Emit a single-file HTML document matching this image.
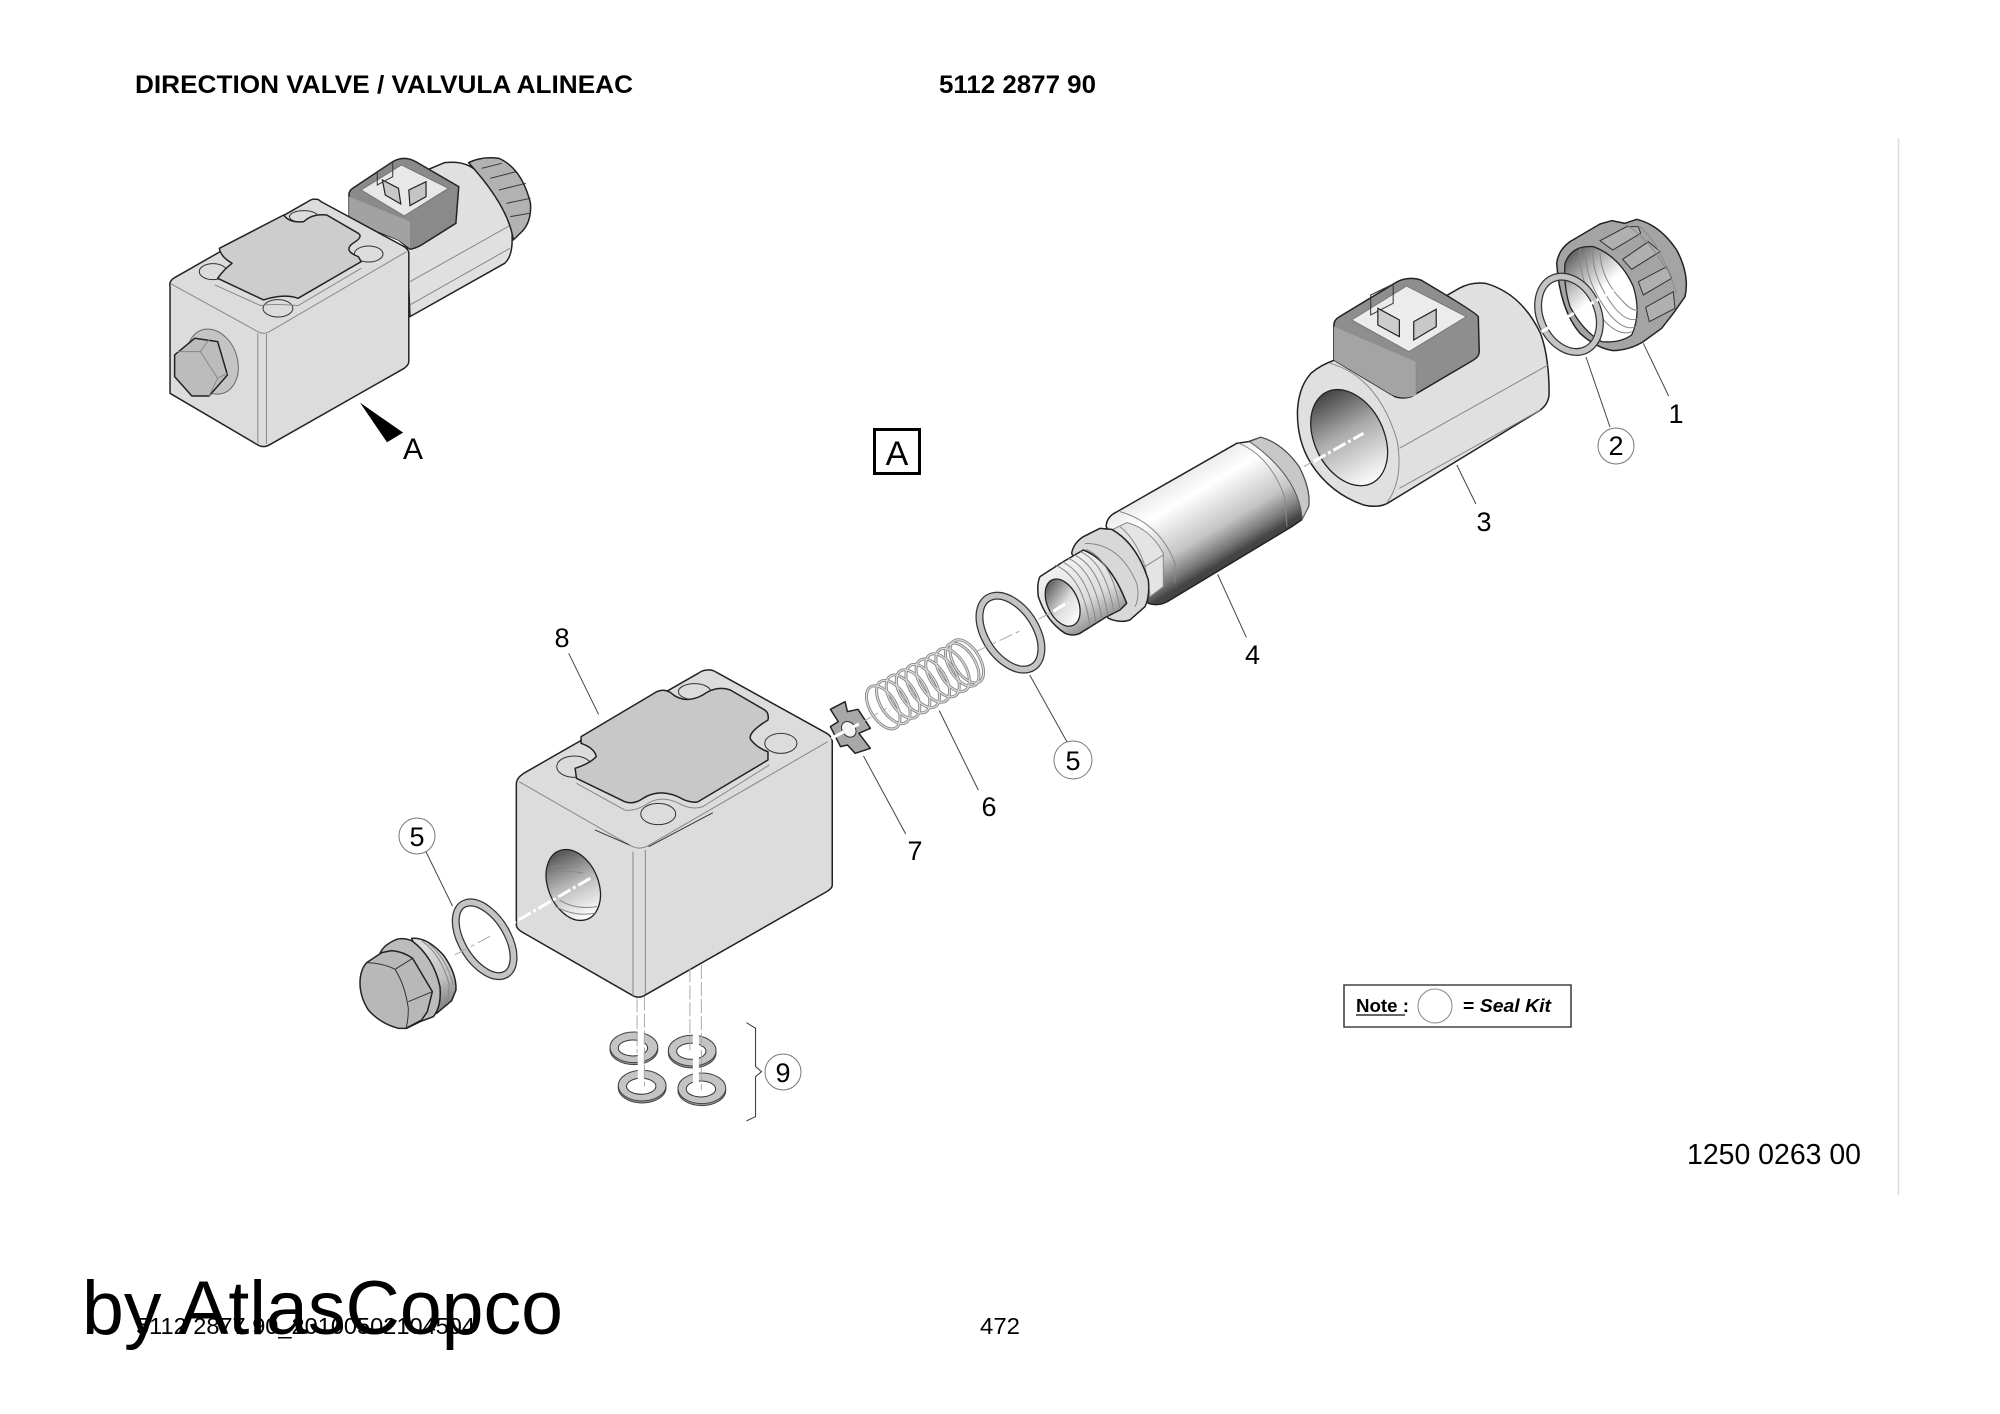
<!DOCTYPE html>
<html>
<head>
<meta charset="utf-8">
<title>Direction Valve</title>
<style>
html,body{margin:0;padding:0;background:#fff}
body{width:2000px;height:1414px;overflow:hidden}
svg{position:absolute;left:0;top:0;display:block}
svg *{vector-effect:non-scaling-stroke}
text{font-family:"Liberation Sans",Arial,sans-serif;fill:#000}
.o{stroke:#222;stroke-width:1.5;stroke-linejoin:round}
.g{fill:none;stroke:#888;stroke-width:1}
.k{fill:none;stroke:#333;stroke-width:1}
.l{fill:none;stroke:#444;stroke-width:1}
.wd{fill:none;stroke:#fff;stroke-width:3;stroke-dasharray:14 3 3 3}
.gd{fill:none;stroke:#aaa;stroke-width:1;stroke-dasharray:14 4 4 4}
.rb{fill:none;stroke:#333;stroke-width:8}
.rf{fill:none;stroke:#c4c4c4;stroke-width:5.5}
.n{font-size:27px;text-anchor:middle}
.c{fill:#fff;stroke:#777;stroke-width:1}
</style>
</head>
<body>
<svg width="2000" height="1414" viewBox="0 0 2000 1414" xmlns="http://www.w3.org/2000/svg">
<defs>
<linearGradient id="bore" gradientUnits="userSpaceOnUse" x1="670" y1="640" x2="790" y2="900"><stop offset="0" stop-color="#3d3d3d"/><stop offset=".45" stop-color="#aaa"/><stop offset="1" stop-color="#fff"/></linearGradient>
<linearGradient id="tube" gradientUnits="userSpaceOnUse" x1="350" y1="880" x2="530" y2="1090"><stop offset="0" stop-color="#e4e4e4"/><stop offset=".3" stop-color="#fff"/><stop offset=".7" stop-color="#c4c4c4"/><stop offset=".9" stop-color="#777"/><stop offset="1" stop-color="#444"/></linearGradient>
<linearGradient id="thr" gradientUnits="userSpaceOnUse" x1="150" y1="170" x2="260" y2="370"><stop offset="0" stop-color="#f2f2f2"/><stop offset=".6" stop-color="#dcdcdc"/><stop offset="1" stop-color="#8a8a8a"/></linearGradient>
<linearGradient id="hole" gradientUnits="userSpaceOnUse" x1="90" y1="245" x2="165" y2="370"><stop offset="0" stop-color="#555"/><stop offset=".55" stop-color="#ddd"/><stop offset="1" stop-color="#fff"/></linearGradient>
<linearGradient id="hb" gradientUnits="userSpaceOnUse" x1="470" y1="700" x2="540" y2="890"><stop offset="0" stop-color="#555"/><stop offset=".5" stop-color="#bbb"/><stop offset="1" stop-color="#fff"/></linearGradient>
<linearGradient id="nutin" gradientUnits="userSpaceOnUse" x1="110" y1="160" x2="240" y2="300"><stop offset="0" stop-color="#555"/><stop offset=".45" stop-color="#bbb"/><stop offset=".8" stop-color="#fff"/></linearGradient>
<linearGradient id="plth" gradientUnits="userSpaceOnUse" x1="260" y1="80" x2="340" y2="240"><stop offset="0" stop-color="#ddd"/><stop offset=".6" stop-color="#c0c0c0"/><stop offset="1" stop-color="#888"/></linearGradient>
</defs>

<!-- Header -->
<text x="135" y="93" font-size="25" font-weight="bold" textLength="498" lengthAdjust="spacingAndGlyphs">DIRECTION VALVE / VALVULA ALINEAC</text>
<text x="939" y="93" font-size="25" font-weight="bold" textLength="157" lengthAdjust="spacingAndGlyphs">5112 2877 90</text>

<!-- Right rule -->
<line x1="1898.5" y1="138" x2="1898.5" y2="1195" stroke="#ddd" stroke-width="1.5"/>

<!-- Top-left assembled view -->
<g transform="translate(100,40) scale(.574,.3333)">
  <path class="o" fill="#e0e0e0" d="M535,620 L540,830 L705,670 Q718,650 718,600 L718,520 L660,400 Q640,360 600,368 L570,390 Z"/>
  <line class="g" x1="540" y1="725" x2="716" y2="555"/>
  <line class="g" x1="540" y1="795" x2="714" y2="625"/>
  <path class="o" fill="#b2b2b2" d="M642,368 Q665,348 695,355 Q735,385 750,490 Q752,545 735,575 L720,600 Q712,500 642,368 Z"/>
  <path class="k" stroke="#666" d="M665,385 L700,370 M680,415 L725,395 M695,450 L742,430 M708,490 L750,475 M715,530 L748,520"/>
  <path class="o" fill="#8a8a8a" d="M530,355 Q520,355 510,365 L440,445 Q432,455 434,470 L434,540 L520,600 L540,628 Q550,625 560,615 L620,550 L625,440 L550,365 Q540,355 530,355 Z"/>
  <path fill="#a2a2a2" d="M434,470 L434,540 L520,600 L540,625 L540,545 Z"/>
  <path fill="#e8e8e8" stroke="#777" d="M525,375 L455,450 L530,528 L607,445 Z"/>
  <path class="k" fill="#d8d8d8" d="M483,435 L483,395 L510,365 L510,410 Z"/>
  <path fill="#c8c8c8" stroke="#222" stroke-width="1.2" d="M492,420 L520,445 L524,492 L497,465 Z"/>
  <path fill="#c4c4c4" stroke="#222" stroke-width="1.2" d="M538,450 L568,425 L568,470 L540,497 Z"/>
  <path class="o" fill="#dcdcdc" d="M375,478 Q370,475 360,487 L128,715 Q120,725 122,740 L122,1060 L275,1215 Q285,1225 295,1215 L530,985 Q538,975 538,965 L538,640 Q538,630 530,620 L385,485 Q380,476 375,478 Z"/>
  <path class="g" d="M124,732 L275,875 Q285,885 295,875 L534,635"/>
  <line class="g" x1="275" y1="880" x2="275" y2="1210"/>
  <line class="g" x1="290" y1="882" x2="290" y2="1212"/>
  <ellipse class="k" fill="#d0d0d0" cx="355" cy="530" rx="25" ry="18"/>
  <ellipse class="k" fill="#d0d0d0" cx="468" cy="642" rx="25" ry="24"/>
  <ellipse class="k" fill="#d0d0d0" cx="197" cy="695" rx="24" ry="24"/>
  <ellipse class="k" fill="#d0d0d0" cx="310" cy="805" rx="26" ry="26"/>
  <path class="g" d="M200,735 L280,797 Q300,790 345,797 L455,685"/>
  <path class="o" fill="#cdcdcd" d="M320,525 Q330,550 355,545 Q370,520 395,525 L450,580 Q458,590 445,605 Q420,630 450,650 L455,665 L345,775 Q320,760 285,780 L205,715 Q215,690 230,670 Q210,650 208,625 Z"/>
  <ellipse cx="196" cy="965" rx="44" ry="98" transform="rotate(-6 196 965)" fill="#c4c4c4" stroke="#666"/>
  <path class="o" fill="#bcbcbc" d="M130,945 L165,895 L205,905 L222,1005 L190,1068 L160,1068 L130,1010 Z"/>
  <path class="g" stroke="#555" d="M135,935 L175,935 L205,1015 L190,1068 M175,935 L190,898 M205,1015 L222,1000"/>
  <polygon points="453,1088 528,1178 500,1207" fill="#000"/>
</g>
<text x="413" y="459" font-size="30" text-anchor="middle">A</text>
<rect x="874.5" y="429.5" width="45" height="44" fill="#fff" stroke="#000" stroke-width="3"/>
<text x="897" y="465" font-size="34" text-anchor="middle">A</text>

<!-- Nut 1 and ring 2 (3x crop coordinates) -->
<g transform="translate(1530,200) scale(.3333)">
  <path class="o" fill="#a4a4a4" d="M80,190 Q85,150 120,125 L210,72 L245,62 L285,70 L320,58 Q390,75 440,150 Q480,225 465,290 L430,340 L395,385 L340,425 Q300,450 250,452 Q200,445 150,400 Q90,330 80,190 Z"/>
  <path fill="#b0b0b0" stroke="#333" d="M210,122 L290,80 L325,80 L332,100 L248,150 Z"/>
  <path fill="#b0b0b0" stroke="#333" d="M278,178 L355,125 L390,155 L305,208 Z"/>
  <path fill="#b0b0b0" stroke="#333" d="M325,245 L410,200 L425,235 L340,285 Z"/>
  <path fill="#b0b0b0" stroke="#333" d="M347,322 L430,275 L435,325 L358,365 Z"/>
  <path class="g" d="M330,80 Q390,130 440,280 M290,75 Q350,110 410,210"/>
  <path fill="#f6f6f6" stroke="#222" stroke-width="1.3" d="M105,190 Q125,135 190,140 Q270,170 310,260 Q335,340 305,405 Q270,430 215,425 Q160,395 120,320 Q100,260 105,190 Z" style="fill:url(#nutin)"/>
  <path class="g" d="M150,145 Q140,240 225,365 Q270,410 305,395 M168,145 Q160,240 240,345 Q285,395 318,380 M188,148 Q185,235 255,325 Q295,370 325,355 M210,160 Q215,240 275,300 Q305,335 325,330"/>
  <ellipse class="rb" cx="117" cy="343" rx="86" ry="118" transform="rotate(-25 117 343)"/>
  <ellipse class="rf" cx="117" cy="343" rx="86" ry="118" transform="rotate(-25 117 343)"/>
  <line class="wd" x1="35" y1="395" x2="268" y2="262"/>
</g>

<!-- Coil and tube -->
<g transform="translate(1000,180) scale(.4783,.3333)">
  <path class="o" fill="#e0e0e0" d="M960,325 Q985,305 1015,310 Q1090,340 1130,460 Q1148,530 1148,640 Q1148,670 1130,690 L810,970 Q790,985 760,975 Q690,940 650,850 Q620,780 622,690 Q625,620 650,580 Q670,555 700,540 Z"/>
  <path class="g" d="M690,550 Q790,590 830,780 Q845,900 808,970"/>
  <line class="g" x1="835" y1="805" x2="1146" y2="555"/>
  <line class="g" x1="835" y1="925" x2="1130" y2="690"/>
  <ellipse cx="730" cy="773" rx="75" ry="147" transform="rotate(-13 730 773)" fill="url(#bore)" stroke="#222" stroke-width="1.3"/>
  <!-- Connector -->
  <path class="o" fill="#8e8e8e" d="M860,295 Q840,295 825,310 L710,410 Q698,420 698,435 L698,540 L820,645 Q835,660 860,650 L990,540 Q1002,530 1002,515 L1000,410 Q998,400 880,300 Q870,295 860,295 Z"/>
  <path fill="#a4a4a4" d="M698,440 L698,540 L820,645 Q845,660 870,645 L870,545 L820,515 Z"/>
  <line class="g" x1="870" y1="545" x2="870" y2="642"/>
  <path fill="#ececec" stroke="#777" d="M850,318 L975,410 L855,515 L735,420 Z"/>
  <path class="k" fill="#ddd" d="M775,405 L775,345 L822,312 L822,370 Z"/>
  <path fill="#cdcdcd" stroke="#222" stroke-width="1.2" d="M790,385 L835,420 L835,470 L790,435 Z"/>
  <path fill="#c8c8c8" stroke="#222" stroke-width="1.2" d="M865,425 L912,388 L912,440 L865,480 Z"/>
  <!-- Tube -->
  <path class="o" fill="url(#tube)" d="M495,790 L520,785 L545,772 Q590,790 625,860 Q650,930 645,980 L630,1020 L610,1040 L350,1265 Q330,1280 310,1270 L250,1100 L222,1040 Q222,1010 245,995 Z"/>
  <path fill="#c8c8c8" stroke="#555" d="M522,785 L545,772 Q590,790 625,860 Q650,930 645,980 L632,1018 Q625,890 522,785 Z"/>
  <path class="g" d="M500,790 Q565,830 595,950 L600,1040"/>
  <!-- Centre lines -->
  <line class="gd" x1="635" y1="860" x2="660" y2="840"/>
  <line class="wd" x1="655" y1="845" x2="760" y2="760"/>
  <!-- Leaders -->
  <line class="l" x1="1345" y1="490" x2="1398" y2="648"/>
  <line class="l" x1="955" y1="855" x2="995" y2="972"/>
  <line class="l" x1="455" y1="1183" x2="515" y2="1372"/>
</g>

<!-- Thread end of tube (3x crop coordinates) -->
<g transform="translate(1020,500) scale(.3333)">
  <path fill="#e4e4e4" stroke="#888" d="M275,90 L320,68 Q390,85 430,160 L430,260 L390,290 Z"/>
  <path class="g" d="M430,165 L375,200 L390,285 M375,200 Q350,120 300,80"/>
  <path class="g" d="M300,35 Q420,70 465,190 L465,250"/>
  <path class="o" fill="#d8d8d8" d="M155,160 Q160,130 190,110 L240,85 L275,88 Q350,130 385,240 Q390,290 375,320 L330,360 Q300,370 265,355 Z"/>
  <path class="g" d="M195,130 Q300,130 350,250 Q360,290 345,320"/>
  <path class="o" fill="url(#thr)" d="M60,230 L130,185 L190,150 Q270,180 320,310 L300,330 L260,350 L180,400 Q160,410 135,400 Q80,365 55,290 Q50,250 60,230 Z"/>
  <path class="g" d="M105,195 Q190,230 210,380 M125,185 Q205,220 228,368 M145,175 Q222,210 246,358 M163,165 Q240,200 264,348 M181,155 Q258,190 282,338 M199,148 Q276,182 300,328"/>
  <ellipse cx="128" cy="308" rx="46" ry="75" transform="rotate(-25 128 308)" fill="url(#hole)" stroke="#222" stroke-width="1.3"/>
  <line class="wd" x1="100" y1="334" x2="145" y2="306"/>
  <line class="gd" x1="55" y1="358" x2="100" y2="334"/>
</g>

<!-- Plug (3x crop coordinates) -->
<g transform="translate(340,920) scale(.3333)">
  <path class="o" fill="url(#plth)" d="M215,55 Q260,50 310,105 Q350,160 348,210 L335,242 L290,280 L250,150 Z"/>
  <path class="g" d="M245,62 Q305,105 328,195 L322,250 M265,70 Q320,115 340,195"/>
  <path class="o" fill="#bcbcbc" d="M120,100 Q130,75 170,58 Q190,52 215,62 Q280,110 300,200 Q305,260 280,290 L240,305 L200,325 Z"/>
  <path class="o" fill="#b8b8b8" d="M60,190 Q60,150 80,128 L125,98 L155,92 Q190,95 218,115 L277,215 L262,275 L245,300 L198,325 L175,325 Q120,310 85,270 Q60,230 60,190 Z"/>
  <path class="k" stroke="#555" d="M80,128 Q130,130 165,148 Q195,195 205,265 Q205,300 198,325 M165,148 L218,115 M205,245 L277,215"/>
</g>

<!-- Block group -->
<g transform="translate(340,620) scale(.4592,.3333)">
  <path class="o" fill="#dcdcdc" d="M800,150 Q810,148 820,157 L1060,340 Q1072,350 1072,365 L1072,795 Q1072,805 1060,815 L665,1125 Q650,1138 635,1125 L395,935 Q384,925 384,915 L384,490 Q384,475 400,460 L780,160 Q790,150 800,150 Z" stroke-width="2"/>
  <path class="g" d="M390,485 L630,675 Q650,692 670,678 L1062,365"/>
  <line class="g" x1="638" y1="695" x2="638" y2="1127"/>
  <line class="g" x1="665" y1="690" x2="665" y2="1122"/>
  <line class="k" x1="555" y1="630" x2="630" y2="675" stroke="#777"/>
  <line class="k" x1="672" y1="680" x2="812" y2="578" stroke="#777"/>
  <ellipse class="k" fill="#d0d0d0" cx="772" cy="215" rx="35" ry="24"/>
  <ellipse class="k" fill="#d0d0d0" cx="960" cy="370" rx="35" ry="30"/>
  <ellipse class="k" fill="#d0d0d0" cx="510" cy="440" rx="38" ry="32"/>
  <ellipse class="k" fill="#d0d0d0" cx="693" cy="582" rx="38" ry="32"/>
  <path class="g" d="M515,490 L620,570 Q640,575 665,555 Q700,520 745,555 Q770,570 790,560 L935,435"/>
  <path class="o" fill="#c8c8c8" d="M525,350 L690,215 Q705,205 720,218 Q750,255 790,225 Q820,195 850,210 L925,270 Q935,280 932,300 Q885,340 895,360 Q910,385 932,395 L932,420 L780,545 Q770,550 750,540 Q700,500 660,535 Q640,555 620,545 L515,475 L512,445 Q545,430 558,410 Q555,385 525,370 Z"/>
  <ellipse cx="508" cy="795" rx="56" ry="108" transform="rotate(-12 508 795)" fill="url(#hb)" stroke="#222" stroke-width="1.3"/>
  <path class="g" d="M458,745 Q480,730 520,740 M456,765 Q480,745 530,760 M470,860 Q510,890 555,880 M478,840 Q510,870 560,860"/>
  <line class="wd" x1="545" y1="775" x2="370" y2="915"/>

  <!-- Left ring -->
  <ellipse class="rb" cx="315" cy="958" rx="52" ry="116" transform="rotate(-20 315 958)"/>
  <ellipse class="rf" cx="315" cy="958" rx="52" ry="116" transform="rotate(-20 315 958)"/>
  <line class="gd" x1="250" y1="1005" x2="332" y2="945"/>

  <!-- Star washer -->
  <polygon class="o" fill="#a8a8a8" points="1068,268 1100,245 1105,275 1128,268 1155,325 1130,340 1155,385 1122,400 1105,375 1090,380 1068,320 1085,305"/>
  <ellipse cx="1108" cy="328" rx="15" ry="24" transform="rotate(-15 1108 328)" fill="#f4f4f4" stroke="#333"/>
  <line class="wd" x1="1070" y1="355" x2="1130" y2="312"/>
  <line class="gd" x1="1130" y1="312" x2="1190" y2="265"/>

  <!-- Spring -->
  <g fill="none" stroke="#888" stroke-width="3">
    <ellipse cx="1183" cy="262" rx="30" ry="68" transform="rotate(-20 1183 262)"/>
    <ellipse cx="1205" cy="246" rx="30" ry="68" transform="rotate(-20 1205 246)"/>
    <ellipse cx="1226" cy="230" rx="30" ry="68" transform="rotate(-20 1226 230)"/>
    <ellipse cx="1248" cy="214" rx="30" ry="68" transform="rotate(-20 1248 214)"/>
    <ellipse cx="1269" cy="198" rx="30" ry="68" transform="rotate(-20 1269 198)"/>
    <ellipse cx="1291" cy="182" rx="30" ry="68" transform="rotate(-20 1291 182)"/>
    <ellipse cx="1312" cy="166" rx="30" ry="68" transform="rotate(-20 1312 166)"/>
    <ellipse cx="1334" cy="150" rx="30" ry="68" transform="rotate(-20 1334 150)"/>
    <ellipse cx="1355" cy="134" rx="30" ry="68" transform="rotate(-20 1355 134)"/>
    <ellipse cx="1365" cy="124" rx="30" ry="68" transform="rotate(-20 1365 124)"/>
  </g>
  <g fill="none" stroke="#ddd" stroke-width="1.2">
    <ellipse cx="1183" cy="262" rx="30" ry="68" transform="rotate(-20 1183 262)"/>
    <ellipse cx="1205" cy="246" rx="30" ry="68" transform="rotate(-20 1205 246)"/>
    <ellipse cx="1226" cy="230" rx="30" ry="68" transform="rotate(-20 1226 230)"/>
    <ellipse cx="1248" cy="214" rx="30" ry="68" transform="rotate(-20 1248 214)"/>
    <ellipse cx="1269" cy="198" rx="30" ry="68" transform="rotate(-20 1269 198)"/>
    <ellipse cx="1291" cy="182" rx="30" ry="68" transform="rotate(-20 1291 182)"/>
    <ellipse cx="1312" cy="166" rx="30" ry="68" transform="rotate(-20 1312 166)"/>
    <ellipse cx="1334" cy="150" rx="30" ry="68" transform="rotate(-20 1334 150)"/>
    <ellipse cx="1355" cy="134" rx="30" ry="68" transform="rotate(-20 1355 134)"/>
    <ellipse cx="1365" cy="124" rx="30" ry="68" transform="rotate(-20 1365 124)"/>
  </g>
  <!-- Top ring -->
  <ellipse class="rb" cx="1460" cy="38" rx="58" ry="116" transform="rotate(-20 1460 38)"/>
  <ellipse class="rf" cx="1460" cy="38" rx="58" ry="116" transform="rotate(-20 1460 38)"/>
  <line class="gd" x1="1385" y1="95" x2="1485" y2="30"/>

  <!-- Washers -->
  <ellipse cx="640" cy="1288" rx="52" ry="46" fill="#999" stroke="#444"/>
  <ellipse cx="640" cy="1282" rx="52" ry="46" fill="#c4c4c4" stroke="#444"/>
  <ellipse cx="638" cy="1284" rx="32" ry="24" fill="#fff" stroke="#333"/>
  <ellipse cx="767" cy="1298" rx="52" ry="46" fill="#999" stroke="#444"/>
  <ellipse cx="767" cy="1292" rx="52" ry="46" fill="#c4c4c4" stroke="#444"/>
  <ellipse cx="765" cy="1294" rx="32" ry="24" fill="#fff" stroke="#333"/>
  <ellipse cx="658" cy="1403" rx="52" ry="46" fill="#999" stroke="#444"/>
  <ellipse cx="658" cy="1397" rx="52" ry="46" fill="#c4c4c4" stroke="#444"/>
  <ellipse cx="656" cy="1399" rx="32" ry="24" fill="#fff" stroke="#333"/>
  <ellipse cx="788" cy="1411" rx="52" ry="46" fill="#999" stroke="#444"/>
  <ellipse cx="788" cy="1405" rx="52" ry="46" fill="#c4c4c4" stroke="#444"/>
  <ellipse cx="786" cy="1407" rx="32" ry="24" fill="#fff" stroke="#333"/>
  <!-- Vertical dashes -->
  <g fill="none" stroke="#fff" stroke-width="6">
    <line x1="655" y1="1230" x2="655" y2="1400"/>
    <line x1="775" y1="1235" x2="775" y2="1410"/>
  </g>
  <g fill="none" stroke="#aaa" stroke-width="1" stroke-dasharray="14 3">
    <line x1="647" y1="1135" x2="647" y2="1300"/>
    <line x1="663" y1="1130" x2="663" y2="1400"/>
    <line x1="762" y1="1045" x2="762" y2="1300"/>
    <line x1="787" y1="1035" x2="787" y2="1410"/>
  </g>
  <!-- Brace -->
  <path class="k" d="M885,1208 L905,1225 L905,1340 L918,1355 L905,1370 L905,1490 L885,1503"/>
  <!-- Leaders -->
  <line class="l" x1="498" y1="100" x2="563" y2="283"/>
  <line class="l" x1="1140" y1="408" x2="1232" y2="642"/>
  <line class="l" x1="1305" y1="272" x2="1390" y2="510"/>
  <line class="l" x1="1502" y1="165" x2="1585" y2="370"/>
  <line class="l" x1="186" y1="692" x2="245" y2="858"/>
</g>

<!-- Leader to circle 2 -->
<line class="l" x1="1586" y1="357" x2="1610" y2="427"/>

<!-- Circles and numbers -->
<circle class="c" cx="1616" cy="446" r="18"/>
<circle class="c" cx="1073" cy="760" r="19"/>
<circle class="c" cx="417" cy="836" r="18"/>
<circle class="c" cx="783" cy="1072" r="18"/>
<text class="n" x="1676" y="423">1</text>
<text class="n" x="1616" y="455">2</text>
<text class="n" x="1484" y="531">3</text>
<text class="n" x="1252.5" y="664">4</text>
<text class="n" x="1073" y="770">5</text>
<text class="n" x="989" y="816">6</text>
<text class="n" x="915" y="860">7</text>
<text class="n" x="562" y="647">8</text>
<text class="n" x="417" y="846">5</text>
<text class="n" x="783" y="1082">9</text>

<!-- Note box -->
<rect x="1344" y="985" width="227" height="42" fill="#fff" stroke="#444" stroke-width="1.6"/>
<text x="1356" y="1012" font-size="18" font-weight="bold" textLength="53" lengthAdjust="spacingAndGlyphs">Note :</text>
<line x1="1356" y1="1015" x2="1405" y2="1015" stroke="#333" stroke-width="1.6"/>
<circle cx="1435" cy="1006" r="17" fill="#fff" stroke="#888" stroke-width="1"/>
<text x="1463" y="1012" font-size="18" font-weight="bold" textLength="88" lengthAdjust="spacingAndGlyphs">= <tspan font-style="italic">Seal Kit</tspan></text>

<!-- Part number -->
<text x="1687" y="1164" font-size="29" textLength="174" lengthAdjust="spacingAndGlyphs">1250 0263 00</text>

<!-- Footer -->
<text x="136" y="1334" font-size="23" textLength="339" lengthAdjust="spacingAndGlyphs">5112 2877 90_20100502104504</text>
<text x="980" y="1334" font-size="23" textLength="40" lengthAdjust="spacingAndGlyphs">472</text>
<text x="82" y="1334" font-size="76" textLength="481" lengthAdjust="spacingAndGlyphs">by AtlasCopco</text>
</svg>
</body>
</html>
